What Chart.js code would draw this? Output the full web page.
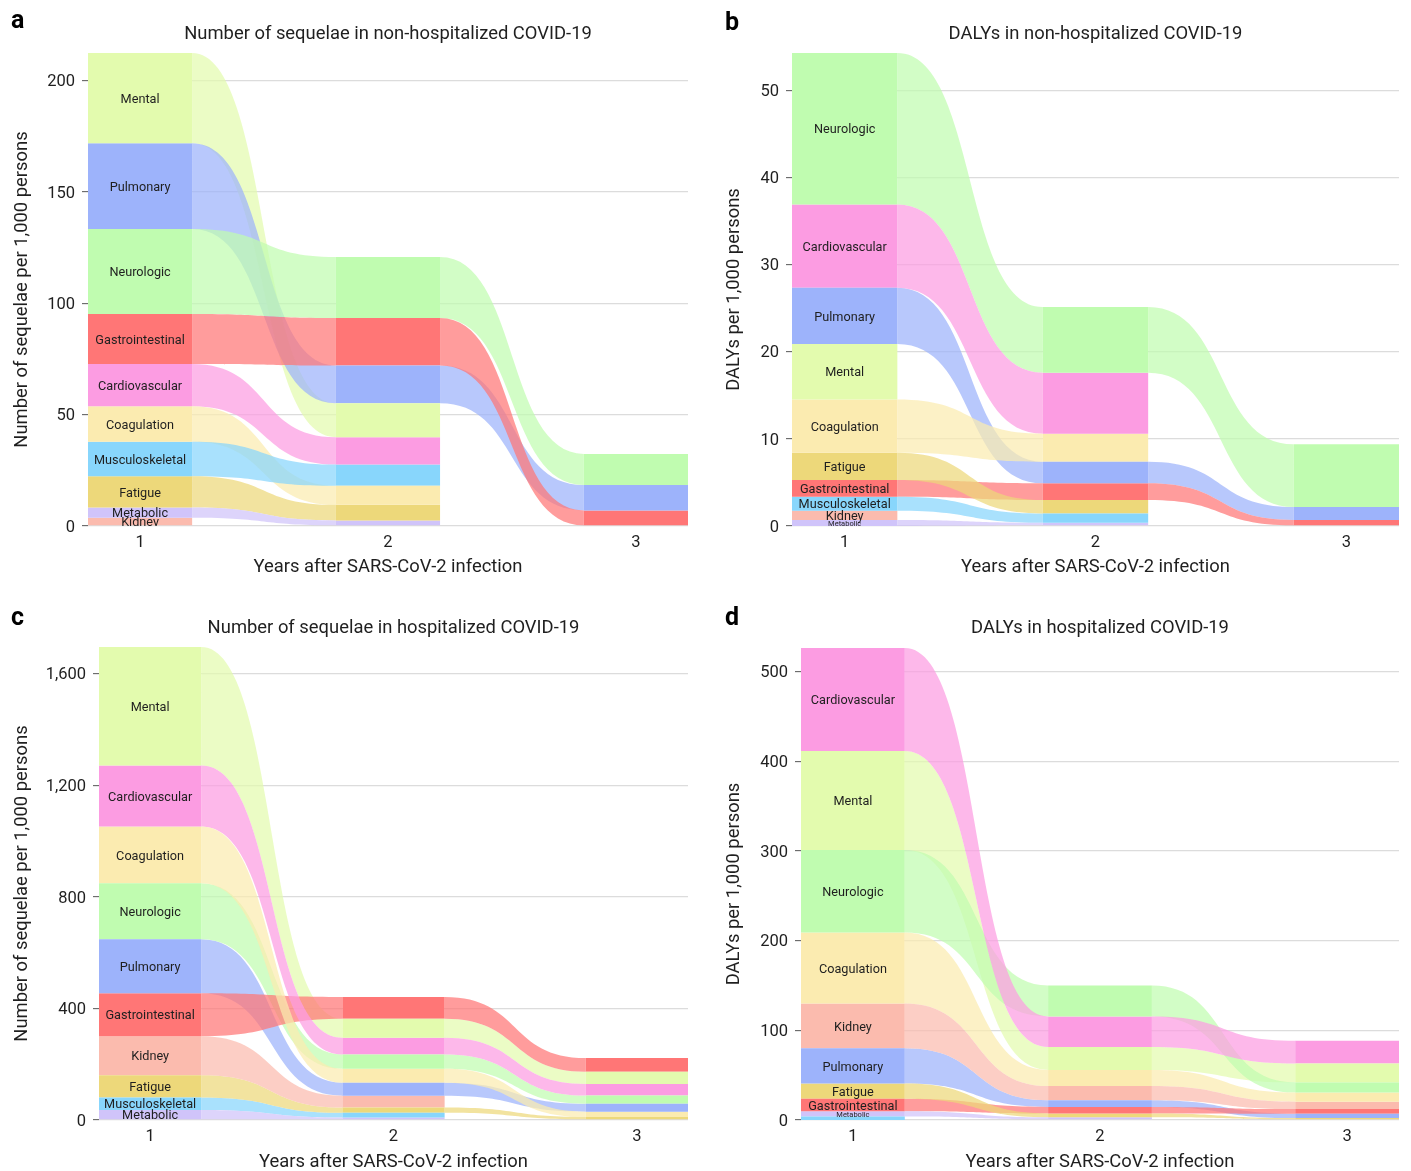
<!DOCTYPE html>
<html>
<head>
<meta charset="utf-8">
<script src="https://cdn.jsdelivr.net/npm/chart.js@4.4.1/dist/chart.umd.min.js"></script>
<style>
  html, body { margin: 0; padding: 0; background: #fff; overflow: hidden; }
  canvas { position: absolute; }
</style>
</head>
<body>
<canvas id="chartA" width="700" height="580" style="left:0;top:0;width:700px;height:580px;"></canvas>
<canvas id="chartB" width="706" height="580" style="left:705px;top:0;width:706px;height:580px;"></canvas>
<canvas id="chartC" width="700" height="590" style="left:0;top:590px;width:700px;height:590px;"></canvas>
<canvas id="chartD" width="706" height="590" style="left:705px;top:590px;width:706px;height:590px;"></canvas>
<script>
// years on the x axis
const years = [1, 2, 3];
const categories = ['Mental', 'Pulmonary', 'Neurologic', 'Gastrointestinal', 'Cardiovascular',
                    'Coagulation', 'Musculoskeletal', 'Fatigue', 'Metabolic', 'Kidney'];

// values per category (same order as categories), for years 1, 2, 3
const sequelaeNonHosp = [
  [40.6, 15.2, 0],     // Mental
  [38.5, 17.0, 11.4],  // Pulmonary
  [38.2, 27.4, 14.0],  // Neurologic
  [22.4, 21.3, 7.0],   // Gastrointestinal
  [19.0, 12.3, 0],     // Cardiovascular
  [15.9, 8.6, 0],      // Coagulation
  [15.5, 9.5, 0],      // Musculoskeletal
  [14.1, 7.0, 0],      // Fatigue
  [4.6, 2.5, 0],       // Metabolic
  [3.7, 0, 0]          // Kidney
];
const dalysNonHosp = [
  [6.37, 0, 0],
  [6.46, 2.48, 1.49],
  [17.4, 7.55, 7.2],
  [1.91, 1.92, 0.69],
  [9.56, 7.0, 0],
  [6.12, 3.22, 0],
  [1.62, 1.07, 0],
  [3.14, 1.55, 0],
  [0.68, 0.36, 0],
  [1.06, 0, 0]
];
const sequelaeHosp = [
  [425, 68, 43.5],
  [194, 47, 28.5],
  [201, 51.5, 29],
  [154, 78, 49],
  [219, 60, 42],
  [203, 49.5, 19],
  [45.2, 17, 0],
  [79.7, 19, 11],
  [35.9, 9, 0],
  [139.5, 42, 0]
];
const dalysHosp = [
  [110.5, 25.5, 21],
  [39.5, 7.5, 5.0],
  [92, 34.4, 11.3],
  [13.8, 7.3, 5.1],
  [115, 34.2, 25.4],
  [79, 18, 10.2],
  [3.9, 0, 0],
  [17, 4.3, 2.1],
  [5.9, 3, 0],
  [50, 15.8, 8.3]
];

// y tick labels
const ticksA = [0, 50, 100, 150, 200];
const ticksB = [0, 10, 20, 30, 40, 50];
const ticksC = [0, 400, 800, 1200, 1600];
const ticksD = [0, 100, 200, 300, 400, 500];

const barColors = ['#e3fbae', '#9db3fb', '#c0fcb0', '#ff7676', '#fc9ce2',
                   '#fbebb0', '#88d6fc', '#edd87a', '#d0c4fa', '#fbbbae'];
const FONT = 'Roboto, "Liberation Sans", sans-serif';
const INK = '#1f1f1f';
const TITLE_SIZE = 18.4;
const HALF_LINE = TITLE_SIZE * 1.2 / 2;
Chart.defaults.font.family = FONT;

function hexAlpha(hex, a) {
  const n = parseInt(hex.slice(1), 16);
  return `rgba(${n >> 16}, ${(n >> 8) & 255}, ${n & 255}, ${a})`;
}

// stack each year with the biggest value on top
function buildSpans(values) {
  const spans = values.map(() => years.map(() => null));
  years.forEach((yr, t) => {
    const order = values.map((v, i) => i).filter(i => values[i][t] > 0)
      .sort((p, q) => values[q][t] - values[p][t]);
    let top = order.reduce((s, i) => s + values[i][t], 0);
    order.forEach(i => {
      spans[i][t] = [top - values[i][t], top];
      top -= values[i][t];
    });
  });
  return spans;
}

// flows between the bars of consecutive years
const flowPlugin = {
  id: 'flows',
  beforeDatasetsDraw(chart) {
    const ctx = chart.ctx, a = chart.chartArea;
    ctx.save();
    ctx.beginPath();
    ctx.rect(a.left, a.top, a.right - a.left, a.bottom - a.top);
    ctx.clip();
    chart.data.datasets.forEach((ds, i) => {
      const els = chart.getDatasetMeta(i).data;
      for (let t = 0; t < els.length - 1; t++) {
        if (ds.data[t].y == null || ds.data[t + 1].y == null) continue;
        const p = els[t], q = els[t + 1];
        const x0 = p.x + p.width / 2, x1 = q.x - q.width / 2;
        const c = (x1 - x0) * 0.55;
        const t0 = Math.min(p.y, p.base), b0 = Math.max(p.y, p.base);
        const t1 = Math.min(q.y, q.base), b1 = Math.max(q.y, q.base);
        ctx.beginPath();
        ctx.moveTo(x0, t0);
        ctx.bezierCurveTo(x0 + c, t0, x1 - c, t1, x1, t1);
        ctx.lineTo(x1, b1);
        ctx.bezierCurveTo(x1 - c, b1, x0 + c, b0, x0, b0);
        ctx.closePath();
        ctx.fillStyle = ds.flowColor;
        ctx.fill();
      }
    });
    ctx.restore();
  },
  afterDatasetsDraw(chart) {
    // names on the year-1 bar
    const ctx = chart.ctx, a = chart.chartArea;
    ctx.save();
    ctx.beginPath();
    ctx.rect(a.left, a.top, a.right - a.left, a.bottom - a.top);
    ctx.clip();
    chart.data.datasets.forEach((ds, i) => {
      if (ds.data[0].y == null) return;
      const el = chart.getDatasetMeta(i).data[0];
      const top = Math.min(el.y, el.base), bottom = Math.max(el.y, el.base);
      const h = bottom - top;
      const size = h >= 7.5 ? 12.7 : (h >= 4.5 ? 7.5 : 0);
      if (!size) return;
      ctx.font = `${size}px ${FONT}`;
      ctx.fillStyle = INK;
      ctx.textAlign = 'center';
      ctx.textBaseline = 'middle';
      ctx.fillText(ds.label, el.x, (top + bottom) / 2 + size * 0.12);
    });
    ctx.restore();
  },
  afterDraw(chart) {
    const opt = chart.options.plugins.flows;
    const ctx = chart.ctx;
    ctx.save();
    ctx.font = `bold 25px ${FONT}`;
    ctx.fillStyle = '#000';
    ctx.textAlign = 'left';
    ctx.textBaseline = 'alphabetic';
    ctx.fillText(opt.letter, opt.letterX, opt.letterY);
    ctx.restore();
  }
};

function makePanel(id, cfg) {
  const canvas = document.getElementById(id);
  const W = canvas.width, H = canvas.height;
  const area = cfg.area;
  const spans = buildSpans(cfg.values);
  const totals = years.map((yr, t) => cfg.values.reduce((s, v) => s + v[t], 0));
  const pad = 0.21;

  const datasets = categories.map((name, i) => ({
    label: name,
    data: years.map((yr, t) => ({ x: yr, y: spans[i][t] })),
    backgroundColor: barColors[i],
    flowColor: hexAlpha(barColors[i], 0.72),
    borderWidth: 0,
    grouped: false,
    barPercentage: 1,
    categoryPercentage: 0.42
  }));

  new Chart(canvas, {
    type: 'bar',
    data: { datasets },
    options: {
      responsive: false,
      animation: false,
      layout: { padding: { left: 0, right: W - area.right, top: 0, bottom: 0 } },
      scales: {
        x: {
          type: 'linear',
          offset: false,
          min: years[0] - pad,
          max: years[years.length - 1] + pad,
          afterBuildTicks: s => { s.ticks = years.map(v => ({ value: v })); },
          afterFit: s => { s.height = H - area.bottom; },
          grid: { display: false, drawTicks: false, offset: false },
          border: { display: false },
          ticks: { padding: 7, color: INK, font: { size: 16.5 }, callback: v => String(v) },
          title: {
            display: true, text: 'Years after SARS-CoV-2 infection', color: INK,
            font: { size: TITLE_SIZE }, padding: { top: 0, bottom: H - cfg.xTitleY - HALF_LINE }
          }
        },
        y: {
          min: 0,
          max: Math.max(...totals),
          afterBuildTicks: s => { s.ticks = cfg.ticks.map(v => ({ value: v })); },
          afterFit: s => { s.width = area.left; },
          grid: { color: '#dcdcdc', lineWidth: 1.3, tickLength: 6, tickColor: '#555', tickWidth: 1 },
          border: { display: false },
          ticks: { padding: 7, labelOffset: 1.5, color: INK, font: { size: 16.5 }, callback: v => v.toLocaleString('en-US') },
          title: {
            display: true, text: cfg.yTitle, color: INK,
            font: { size: TITLE_SIZE }, padding: { top: cfg.yTitleX - HALF_LINE, bottom: 0 }
          }
        }
      },
      plugins: {
        legend: { display: false },
        tooltip: { enabled: false },
        title: {
          display: true, text: cfg.title, fullSize: false, color: INK,
          font: { size: TITLE_SIZE, weight: 'normal' },
          padding: { top: cfg.titleY - HALF_LINE, bottom: area.top - cfg.titleY - HALF_LINE }
        },
        flows: { letter: cfg.letter, letterX: cfg.letterX, letterY: cfg.letterY }
      }
    },
    plugins: [flowPlugin]
  });
}

makePanel('chartA', {
  values: sequelaeNonHosp, ticks: ticksA,
  title: 'Number of sequelae in non-hospitalized COVID-19',
  yTitle: 'Number of sequelae per 1,000 persons',
  area: { left: 88, right: 688, top: 53, bottom: 526 },
  titleY: 34, yTitleX: 22, xTitleY: 567,
  letter: 'a', letterX: 11, letterY: 28
});
makePanel('chartB', {
  values: dalysNonHosp, ticks: ticksB,
  title: 'DALYs in non-hospitalized COVID-19',
  yTitle: 'DALYs per 1,000 persons',
  area: { left: 87, right: 694, top: 53, bottom: 526 },
  titleY: 34, yTitleX: 29, xTitleY: 567,
  letter: 'b', letterX: 20, letterY: 30
});
makePanel('chartC', {
  values: sequelaeHosp, ticks: ticksC,
  title: 'Number of sequelae in hospitalized COVID-19',
  yTitle: 'Number of sequelae per 1,000 persons',
  area: { left: 99, right: 688, top: 57, bottom: 530 },
  titleY: 38, yTitleX: 22, xTitleY: 572,
  letter: 'c', letterX: 11, letterY: 35
});
makePanel('chartD', {
  values: dalysHosp, ticks: ticksD,
  title: 'DALYs in hospitalized COVID-19',
  yTitle: 'DALYs per 1,000 persons',
  area: { left: 96, right: 694, top: 58, bottom: 530 },
  titleY: 38, yTitleX: 29, xTitleY: 572,
  letter: 'd', letterX: 20, letterY: 35
});
</script>
</body>
</html>
